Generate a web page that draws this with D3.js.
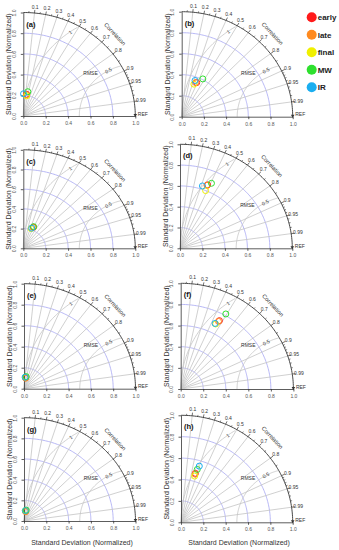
<!DOCTYPE html>
<html>
<head>
<meta charset="utf-8">
<script src="https://cdn.jsdelivr.net/npm/d3@7"></script>
<style>
body { margin: 0; background: #fff; }
text { font-family: "Liberation Sans", Arial, sans-serif; }
</style>
</head>
<body>
<script>
// series and panels
var seriesNames = ["early", "late", "final", "MW", "IR"];
var seriesColors = ["#ff1a1a", "#ff8a1f", "#f0f000", "#2ee02e", "#1aaef0"];
var panelLabels = ["(a)", "(b)", "(c)", "(d)", "(e)", "(f)", "(g)", "(h)"];

// normalized standard deviation, one row per panel, order = seriesNames
var stdDev = [
   [0.212, 0.207, 0.197, 0.238, 0.215],
   [0.352, 0.348, 0.329, 0.407, 0.365],
   [0.233, 0.230, 0.212, 0.238, 0.218],
   [0.658, 0.651, 0.600, 0.685, 0.632],
   [0.106, 0.101, 0.111, 0.117, 0.110],
   [0.732, 0.722, 0.689, 0.815, 0.691],
   [0.096, 0.091, 0.101, 0.107, 0.101],
   [0.475, 0.467, 0.449, 0.515, 0.550]
];
// correlation coefficient, same layout
var corrCoef = [
   [0.14, 0.145, 0.15, 0.17, 0.01],
   [0.384, 0.36, 0.334, 0.467, 0.329],
   [0.386, 0.383, 0.33, 0.386, 0.344],
   [0.374, 0.369, 0.38, 0.409, 0.316],
   [0.14, 0.148, 0.117, 0.171, 0.09],
   [0.469, 0.464, 0.45, 0.491, 0.441],
   [0.156, 0.164, 0.119, 0.187, 0.119],
   [0.27, 0.27, 0.272, 0.283, 0.298]
];

var stdTicks = [0, 0.2, 0.4, 0.6, 0.8, 1.0];
var stdArcs = [0.2, 0.4, 0.6, 0.8];
var corrTicks = [0.1, 0.2, 0.3, 0.4, 0.5, 0.6, 0.7, 0.8, 0.9, 0.95, 0.99];
var corrMinor = [0.05, 0.15, 0.25, 0.35, 0.45, 0.55, 0.65, 0.75, 0.85, 0.91, 0.92, 0.93, 0.94, 0.96, 0.97, 0.98];
var rmseArcs = [0.5, 1];

// panel frames (origin and radii in px)
var panelOx = [23.3, 181.7, 23.3, 180, 24, 180.7, 24, 181];
var panelOy = [116, 116.7, 248.3, 248.3, 388.7, 389, 521, 522.3];
var panelRx = [112, 111, 112, 112.3, 111.5, 112.7, 111.5, 111.7];
var panelRy = [103.5, 105, 98.5, 104, 105, 105.7, 103.3, 107];

var svg = d3.select("body")
   .append("svg")
   .attr("width", 339)
   .attr("height", 550);

function drawPanel(i) {
   var row = Math.floor(i / 2);
   var ox = panelOx[i], oy = panelOy[i], radY = panelRy[i];
   var xs = d3.scaleLinear().domain([0, 1]).range([ox, ox + panelRx[i]]);
   var ys = d3.scaleLinear().domain([0, 1]).range([oy, oy - radY]);
   var g = svg.append("g").attr("id", "panel" + i);
   var line = d3.line();

   function polar(r, c) {
      return [xs(r * c), ys(r * Math.sqrt(1 - c * c))];
   }
   function arcPts(cx, r, a0, a1) {
      return d3.range(a0, a1 + 0.5, 1).map(function(a) {
         var t = a * Math.PI / 180;
         return [xs(cx + r * Math.cos(t)), ys(r * Math.sin(t))];
      });
   }

   // std dev arcs
   g.selectAll(".sd").data(stdArcs).enter().append("path")
      .attr("d", function(r) { return line(arcPts(0, r, 0, 90)); })
      .style("fill", "none").style("stroke", "#a6a6f2").style("stroke-width", 0.8);

   // radial correlation lines
   g.selectAll(".rad").data(corrTicks).enter().append("path")
      .attr("d", function(c) { return line([polar(0, c), polar(1, c)]); })
      .style("stroke", "#c4c4c4").style("stroke-width", 0.8);

   // RMSE arcs around REF, clipped at the unit circle
   g.selectAll(".rmse").data(rmseArcs).enter().append("path")
      .attr("d", function(r) {
         var xi = 1 - r * r / 2;
         var a0 = Math.acos((xi - 1) / r) * 180 / Math.PI;
         return line(arcPts(1, r, Math.ceil(a0), 180));
      })
      .style("fill", "none").style("stroke", "#c4c4c4").style("stroke-width", 0.8);

   // outer correlation arc
   g.append("path")
      .attr("d", line(arcPts(0, 1, 0, 90)))
      .style("fill", "none").style("stroke", "#333").style("stroke-width", 0.9);

   g.selectAll(".tk").data(corrTicks).enter().append("path")
      .attr("d", function(c) { return line([polar(1, c), polar(1.03, c)]); })
      .style("stroke", "#333").style("stroke-width", 0.7);
   g.selectAll(".tkm").data(corrMinor).enter().append("path")
      .attr("d", function(c) { return line([polar(1, c), polar(1.015, c)]); })
      .style("stroke", "#333").style("stroke-width", 0.6);

   g.selectAll(".cl").data(corrTicks).enter().append("text")
      .attr("x", function(c) { return polar(1.06, c)[0]; })
      .attr("y", function(c) { return polar(1.06, c)[1]; })
      .attr("dy", "0.35em")
      .attr("text-anchor", "middle")
      .style("font-size", "5px").style("fill", "#333")
      .text(function(c) { return c; });

   // axes
   var yAxis = g.append("g").attr("transform", "translate(" + ox + ",0)")
      .call(d3.axisLeft(ys).tickValues(stdTicks).tickFormat(d3.format(".1f")).tickSize(2.5).tickSizeOuter(0));
   yAxis.selectAll("text")
      .attr("transform", "rotate(-90)")
      .attr("x", 0).attr("y", -7.5).attr("dy", 0)
      .attr("text-anchor", "middle")
      .style("font-size", "5px").style("fill", "#555")
      .style("font-family", "Liberation Sans, Arial, sans-serif");

   var xAxis = g.append("g").attr("transform", "translate(0," + oy + ")")
      .call(d3.axisBottom(xs).tickValues(stdTicks).tickFormat(d3.format(".1f")).tickSize(2.5).tickSizeOuter(0));
   xAxis.selectAll("text")
      .attr("y", 9).attr("dy", 0)
      .style("font-size", "5px").style("fill", "#555")
      .style("font-family", "Liberation Sans, Arial, sans-serif");
   g.selectAll(".domain, .tick line").style("stroke", "#333").style("stroke-width", 0.8);

   // labels inside the diagram
   g.append("text")
      .attr("transform", "translate(" + xs(0.818) + "," + ys(0.792) + ") rotate(47)")
      .attr("text-anchor", "middle").attr("dy", "0.35em")
      .style("font-size", "5.8px").style("fill", "#333")
      .text("Correlation");
   g.append("text")
      .attr("x", xs(0.6)).attr("y", ys(0.41)).attr("dy", "0.35em")
      .attr("text-anchor", "middle")
      .style("font-size", "5px").style("fill", "#333")
      .text("RMSE");
   g.append("text")
      .attr("transform", "translate(" + xs(0.76) + "," + ys(0.44) + ") rotate(-28)")
      .attr("text-anchor", "middle").attr("dy", "0.35em")
      .style("font-size", "5px").style("fill", "#333")
      .text("0.5");
   g.append("text")
      .attr("transform", "translate(" + xs(0.42) + "," + ys(0.81) + ") rotate(-35)")
      .attr("text-anchor", "middle").attr("dy", "0.35em")
      .style("font-size", "5px").style("fill", "#333")
      .text("1");

   // REF
   g.append("path")
      .attr("d", "M" + (xs(1) - 1.8) + "," + (oy - 2) + "L" + (xs(1) + 1.8) + "," + (oy - 2) + "L" + xs(1) + "," + (oy + 1) + "Z")
      .style("fill", "#333");
   g.append("text")
      .attr("x", xs(1) + 2.5).attr("y", oy - 2).attr("dy", "0.35em")
      .style("font-size", "5px").style("fill", "#333")
      .text("REF");

   // panel label
   g.append("text")
      .attr("x", ox + 3).attr("y", oy - radY + 14)
      .style("font-size", "7.5px").style("font-weight", "bold").style("fill", "#111")
      .text(panelLabels[i]);

   // titles
   g.append("text")
      .attr("transform", "translate(" + (ox - 14.5) + "," + (oy - radY / 2) + ") rotate(-90)")
      .attr("text-anchor", "middle").attr("dy", "0.35em")
      .style("font-size", "7px").style("fill", "#333")
      .text("Standard Deviation (Normalized)");
   if (row == 3) {
      g.append("text")
         .attr("x", xs(0.52)).attr("y", 543).attr("dy", "0.35em")
         .attr("text-anchor", "middle")
         .style("font-size", "7px").style("fill", "#333")
         .text("Standard Deviation (Normalized)");
   }

   // points
   var pts = seriesNames.map(function(s, k) {
      return { k: k, p: polar(stdDev[i][k], corrCoef[i][k]) };
   });
   g.selectAll(".pt").data(pts).enter().append("circle")
      .attr("cx", function(d) { return d.p[0]; })
      .attr("cy", function(d) { return d.p[1]; })
      .attr("r", 3)
      .style("fill", "none")
      .style("stroke", function(d) { return seriesColors[d.k]; })
      .style("stroke-width", 1);
}

for (var i = 0; i < panelLabels.length; i++) drawPanel(i);

// legend
var legend = svg.append("g").selectAll("g").data(seriesNames).enter().append("g")
   .attr("transform", function(d, k) { return "translate(311.7," + (17.3 + k * 17.5) + ")"; });
legend.append("circle")
   .attr("r", 5)
   .style("fill", function(d, k) { return seriesColors[k]; });
legend.append("text")
   .attr("x", 6).attr("dy", "0.35em")
   .style("font-size", "8px").style("font-weight", "bold").style("fill", "#222")
   .text(function(d) { return d; });
</script>
</body>
</html>
